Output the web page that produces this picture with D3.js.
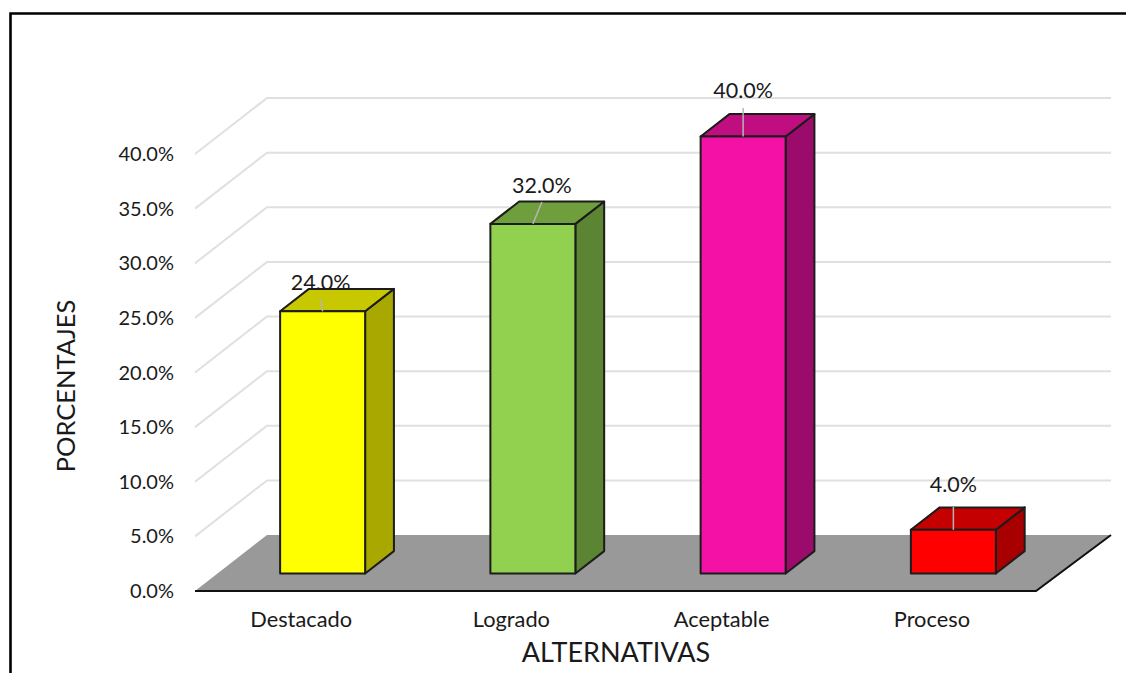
<!DOCTYPE html>
<html>
<head>
<meta charset="utf-8">
<script src="https://cdn.jsdelivr.net/npm/d3@7"></script>
<style>
  html, body { margin: 0; padding: 0; background: #fff; }
  text { font-family: Lato, "Open Sans", sans-serif; fill: #1a1a1a; }
</style>
</head>
<body>
<div id="chart"></div>
<script>
var categories = ["Destacado", "Logrado", "Aceptable", "Proceso"];
var values = [24, 32, 40, 4];
var frontColors = ["#ffff00", "#92d050", "#f312a5", "#ff0000"];
var topColors = ["#c8c800", "#6f9e3c", "#c00e80", "#c40000"];
var sideColors = ["#a8a800", "#5b8433", "#9a0b6c", "#a80000"];
var yTicks = [0, 5, 10, 15, 20, 25, 30, 35, 40];

var width = 1126;
var height = 673;

// front edge of the floor and the offset to the back wall
var x0 = 195, x1 = 1036, y0 = 591;
var depthX = 72, depthY = -56;

// bars stand inside the floor, this is how far in and how deep
var barIn = 0.3125;
var barDepth = 0.4;
var barWidth = 85;

var x = d3.scaleBand().domain(categories).range([x0, x1]);
var y = d3.scaleLinear().domain([0, 40]).range([y0, 154]);

var svg = d3.select("#chart").append("svg")
  .attr("width", width)
  .attr("height", height)
  .style("display", "block");

// frame
svg.append("path")
  .attr("d", "M10.5,673V13.5H1126")
  .attr("fill", "none")
  .attr("stroke", "#000")
  .attr("stroke-width", 2.6);

// gridlines, they run along the side wall then the back wall
svg.append("g").selectAll("path")
  .data(yTicks.slice(1))
  .join("path")
  .attr("fill", "none")
  .attr("stroke", "#e0e0e0")
  .attr("stroke-width", 2)
  .attr("d", (d) => `M${x0},${y(d)}L${x0 + depthX},${y(d) + depthY}H1111`);

// floor
svg.append("path")
  .attr("d", `M${x0},${y0}H${x1}L${x1 + 75},${y0 + depthY}H${x0 + depthX}Z`)
  .attr("fill", "#999999");
svg.append("path")
  .attr("d", `M${x0},${y0}H${x1}L${x1 + 75},${y0 + depthY}`)
  .attr("fill", "none")
  .attr("stroke", "#111")
  .attr("stroke-width", 2);

// tick labels
svg.append("g").selectAll("text")
  .data(yTicks)
  .join("text")
  .attr("x", 174)
  .attr("y", (d) => y(d))
  .attr("dy", "0.35em")
  .attr("text-anchor", "end")
  .attr("font-size", 20)
  .text((d) => d3.format(".1f")(d) + "%");

svg.append("g").selectAll("text")
  .data(categories)
  .join("text")
  .attr("x", (d) => x(d) + x.bandwidth() / 2 + 1)
  .attr("y", 627)
  .attr("text-anchor", "middle")
  .attr("font-size", 21.8)
  .text((d) => d);

// bars
var bars = svg.append("g").selectAll("g")
  .data(categories)
  .join("g");

var bx = (d) => x(d) + x.bandwidth() / 2 + depthX * barIn - barWidth / 2;
var by0 = y0 + depthY * barIn;
var bTop = (i) => by0 - (y(0) - y(values[i]));
var ox = depthX * barDepth, oy = depthY * barDepth;

bars.append("path")
  .attr("d", (d, i) => `M${bx(d) + barWidth},${by0}V${bTop(i)}l${ox},${oy}V${by0 + oy}Z`)
  .attr("fill", (d, i) => sideColors[i]);
bars.append("path")
  .attr("d", (d, i) => `M${bx(d)},${bTop(i)}h${barWidth}l${ox},${oy}h${-barWidth}Z`)
  .attr("fill", (d, i) => topColors[i]);
bars.append("rect")
  .attr("x", (d) => bx(d))
  .attr("y", (d, i) => bTop(i))
  .attr("width", barWidth)
  .attr("height", (d, i) => by0 - bTop(i))
  .attr("fill", (d, i) => frontColors[i]);
bars.selectAll("path,rect")
  .attr("stroke", "#1c1c1c")
  .attr("stroke-width", 2)
  .attr("stroke-linejoin", "round");

// value labels with their leader lines
var leaderTop = [300, 202, 108, 507];
var leaderDx = [-2, 9, 0, 0];
bars.append("line")
  .attr("x1", (d) => bx(d) + barWidth / 2)
  .attr("y1", (d, i) => bTop(i))
  .attr("x2", (d, i) => bx(d) + barWidth / 2 + leaderDx[i])
  .attr("y2", (d, i) => leaderTop[i])
  .attr("stroke", "#b5b5b5")
  .attr("stroke-width", 1.5);
var labelY = [290, 193, 98, 492];
var labelDx = [-2, 9, 0, 0];
bars.append("text")
  .attr("x", (d, i) => bx(d) + barWidth / 2 + labelDx[i])
  .attr("y", (d, i) => labelY[i])
  .attr("text-anchor", "middle")
  .attr("font-size", 21.5)
  .text((d, i) => d3.format(".1f")(values[i]) + "%");

// axis titles
svg.append("text")
  .attr("x", 616)
  .attr("y", 662)
  .attr("text-anchor", "middle")
  .attr("font-size", 27)
  .text("ALTERNATIVAS");
svg.append("text")
  .attr("transform", "translate(75,386) rotate(-90)")
  .attr("text-anchor", "middle")
  .attr("font-size", 25.5)
  .text("PORCENTAJES");
</script>
</body>
</html>
